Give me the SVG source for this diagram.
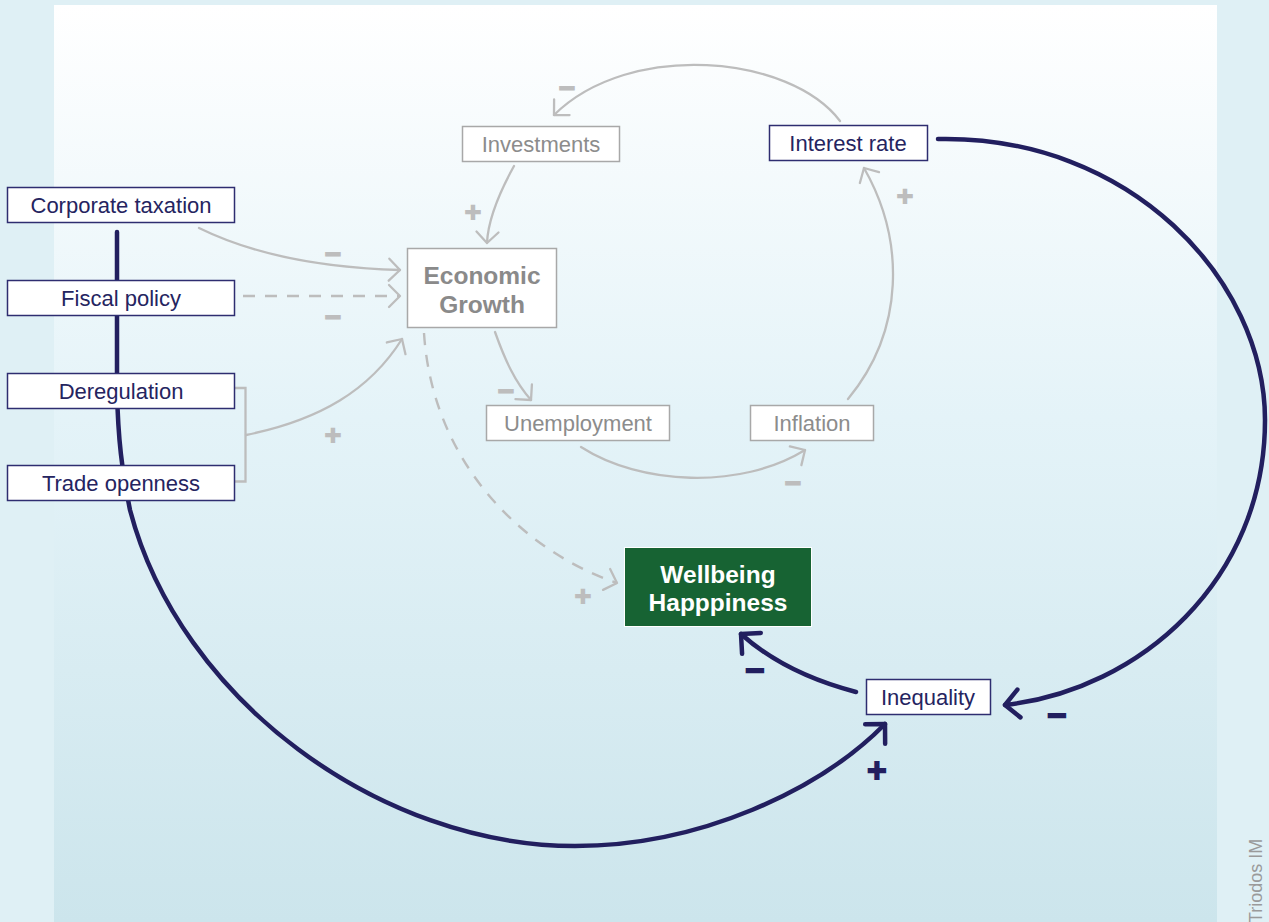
<svg xmlns="http://www.w3.org/2000/svg" width="1269" height="922" viewBox="0 0 1269 922">
  <style>
    .box-n { fill: #ffffff; stroke: #2e2d70; stroke-width: 1.5; }
    .box-g { fill: #ffffff; stroke: #a8a8a8; stroke-width: 1.5; }
    .t-n { font-family: "Liberation Sans", Arial, sans-serif; font-size: 22px; fill: #25245f; text-anchor: middle; }
    .t-g { font-family: "Liberation Sans", Arial, sans-serif; font-size: 22px; fill: #8c8c8c; text-anchor: middle; }
    .t-b { font-family: "Liberation Sans", Arial, sans-serif; font-size: 24.5px; font-weight: bold; text-anchor: middle; }
    .ln-g { fill: none; stroke: #bdbdbd; stroke-width: 2.3; stroke-linecap: round; }
    .ln-d { fill: none; stroke: #bdbdbd; stroke-width: 2.4; stroke-dasharray: 12 10; }
    .ln-n { fill: none; stroke: #221f5f; stroke-width: 4.5; stroke-linecap: round; }
    .sg { font-family: "DejaVu Sans", sans-serif; font-weight: bold; font-size: 22px; fill: #bdbdbd; stroke: #bdbdbd; stroke-width: 1.8; text-anchor: middle; }
    .sn { font-family: "DejaVu Sans", sans-serif; font-weight: bold; font-size: 26px; fill: #221f5f; stroke: #221f5f; stroke-width: 2.2; text-anchor: middle; }
  </style>
  <defs>
    <linearGradient id="panel" x1="0" y1="0" x2="0" y2="1">
      <stop offset="0" stop-color="#ffffff"/>
      <stop offset="0.45" stop-color="#e4f3f8"/>
      <stop offset="1" stop-color="#cce5ec"/>
    </linearGradient>
    <marker id="arr-g" markerUnits="userSpaceOnUse" viewBox="-16 -16 32 32" markerWidth="32" markerHeight="32" refX="0" refY="0" orient="auto">
      <path d="M-11,-11 L0,0 L-11,11" fill="none" stroke="#bdbdbd" stroke-width="2.3" stroke-linecap="round" stroke-linejoin="round"/>
    </marker>
    <marker id="arr-n" markerUnits="userSpaceOnUse" viewBox="-20 -20 40 40" markerWidth="40" markerHeight="40" refX="0" refY="0" orient="auto">
      <path d="M-14,-14 L0,0 L-14,14" fill="none" stroke="#221f5f" stroke-width="4.5" stroke-linecap="round" stroke-linejoin="round"/>
    </marker>
  </defs>

  <!-- backdrop -->
  <rect x="0" y="0" width="1269" height="922" fill="#dff0f5"/>
  <rect x="54" y="5" width="1163" height="917" fill="url(#panel)"/>
  <text transform="translate(1262,923) rotate(-90)" font-family="Liberation Sans, Arial, sans-serif" font-size="18" fill="#9a9a9a">Triodos IM</text>

  <g id="connectors">
    <!-- grey causal links -->
    <path class="ln-g" d="M840,121 C790,55 630,40 554,115" marker-end="url(#arr-g)"/>
    <path class="ln-g" d="M514,166 C498,195 488,220 487,243" marker-end="url(#arr-g)"/>
    <path class="ln-g" d="M199,228 C260,258 330,268 400,270" marker-end="url(#arr-g)"/>
    <path class="ln-d" d="M243,296 L400,296" marker-end="url(#arr-g)"/>
    <path class="ln-g" d="M235,388 H245.5 V481.5 H235" stroke-linecap="butt"/>
    <path class="ln-g" d="M246,435 C320,420 370,390 402,339" marker-end="url(#arr-g)"/>
    <path class="ln-g" d="M495,332 C505,360 515,382 531,400" marker-end="url(#arr-g)"/>
    <path class="ln-d" d="M424,333 C432,460 520,550 617,583" marker-end="url(#arr-g)"/>
    <path class="ln-g" d="M581,447 C640,485 740,490 805,450" marker-end="url(#arr-g)"/>
    <path class="ln-g" d="M848,399 C905,330 905,240 864,168" marker-end="url(#arr-g)"/>

    <!-- navy loop links -->
    <path class="ln-n" d="M117,232 L117,390 C118,440 122,470 130,510 C180,700 380,846 575,846 C700,846 820,790 885,724" marker-end="url(#arr-n)"/>
    <path class="ln-n" d="M938,139 C1130,135 1265,280 1265,420 C1265,580 1140,690 1005,705" marker-end="url(#arr-n)"/>
    <path class="ln-n" d="M856,692 C810,680 770,660 741,634" marker-end="url(#arr-n)"/>

    <!-- polarity labels -->
    <text class="sg" x="567" y="95">−</text>
    <text class="sg" x="473" y="219">+</text>
    <text class="sg" x="905" y="203">+</text>
    <text class="sg" x="333" y="261">−</text>
    <text class="sg" x="333" y="324">−</text>
    <text class="sg" x="333" y="442">+</text>
    <text class="sg" x="506" y="398">−</text>
    <text class="sg" x="793" y="490">−</text>
    <text class="sg" x="583" y="603">+</text>
    <text class="sn" x="755" y="679">−</text>
    <text class="sn" x="1057" y="724">−</text>
    <text class="sn" x="877" y="779">+</text>
  </g>

  <g id="node-corporate-taxation">
    <rect class="box-n" x="7.5" y="187.5" width="227" height="35"/>
    <text class="t-n" x="121" y="213">Corporate taxation</text>
  </g>
  <g id="node-fiscal-policy">
    <rect class="box-n" x="7.5" y="280.5" width="227" height="35"/>
    <text class="t-n" x="121" y="306">Fiscal policy</text>
  </g>
  <g id="node-deregulation">
    <rect class="box-n" x="7.5" y="373.5" width="227" height="35"/>
    <text class="t-n" x="121" y="399">Deregulation</text>
  </g>
  <g id="node-trade-openness">
    <rect class="box-n" x="7.5" y="465.5" width="227" height="35"/>
    <text class="t-n" x="121" y="491">Trade openness</text>
  </g>
  <g id="node-investments">
    <rect class="box-g" x="462.5" y="126.5" width="157" height="35"/>
    <text class="t-g" x="541" y="152">Investments</text>
  </g>
  <g id="node-interest-rate">
    <rect class="box-n" x="769.5" y="125.5" width="158" height="35"/>
    <text class="t-n" x="848" y="151">Interest rate</text>
  </g>
  <g id="node-economic-growth">
    <rect class="box-g" x="407.5" y="248.5" width="149" height="79"/>
    <text class="t-b" x="482" y="284" fill="#8a8a8a">Economic</text>
    <text class="t-b" x="482" y="313" fill="#8a8a8a">Growth</text>
  </g>
  <g id="node-unemployment">
    <rect class="box-g" x="486.5" y="405.5" width="183" height="35"/>
    <text class="t-g" x="578" y="431">Unemployment</text>
  </g>
  <g id="node-inflation">
    <rect class="box-g" x="750.5" y="405.5" width="123" height="35"/>
    <text class="t-g" x="812" y="431">Inflation</text>
  </g>
  <g id="node-wellbeing">
    <rect x="624.5" y="547.5" width="187" height="79" fill="#176333" stroke="#ffffff" stroke-width="1"/>
    <text class="t-b" x="718" y="583" fill="#ffffff">Wellbeing</text>
    <text class="t-b" x="718" y="611" fill="#ffffff">Happpiness</text>
  </g>
  <g id="node-inequality">
    <rect class="box-n" x="866.5" y="679.5" width="124" height="35"/>
    <text class="t-n" x="928" y="705">Inequality</text>
  </g>
</svg>
